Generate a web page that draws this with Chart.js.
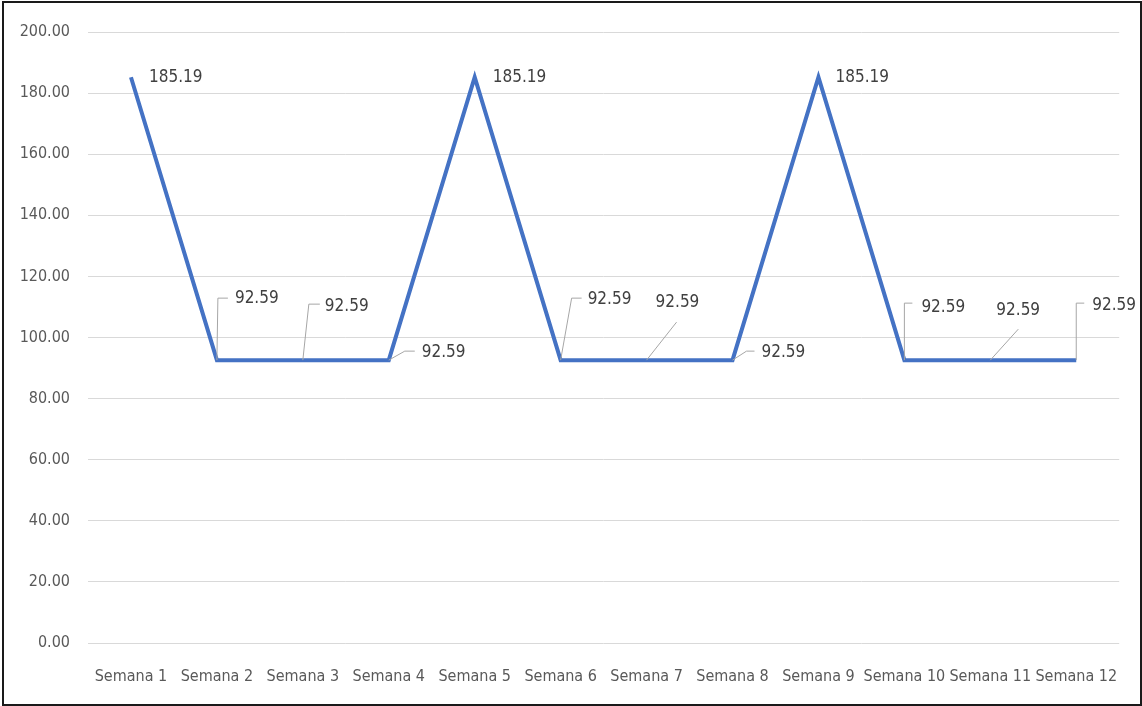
<!DOCTYPE html>
<html>
<head>
<meta charset="utf-8">
<script src="https://cdn.jsdelivr.net/npm/chart.js@4.4.1/dist/chart.umd.min.js"></script>
<style>
  html, body { margin: 0; padding: 0; background: #fff; }
  #wrap { position: relative; width: 1142px; height: 706px; }
  #frame { position: absolute; left: 2px; top: 1px; width: 1136px; height: 701px; border: 2px solid #1a1a1a; box-sizing: content-box; pointer-events: none; }
  canvas { position: absolute; left: 0; top: 0; }
</style>
</head>
<body>
<div id="wrap">
  <canvas id="c" width="1142" height="706"></canvas>
  <div id="frame"></div>
</div>
<script>
const categories = ["Semana 1","Semana 2","Semana 3","Semana 4","Semana 5","Semana 6","Semana 7","Semana 8","Semana 9","Semana 10","Semana 11","Semana 12"];
const values = [185.19, 92.59, 92.59, 92.59, 185.19, 92.59, 92.59, 92.59, 185.19, 92.59, 92.59, 92.59];
const yTicks = [0, 20, 40, 60, 80, 100, 120, 140, 160, 180, 200];

const FONT = '"Liberation Sans Narrow", "DejaVu Sans Condensed", "Arial Narrow", sans-serif';

// label placement (pixel offsets from each point), and leader lines
const labelLayout = [
  { dx: 18, dy: 0, leader: null },
  { dx: 18, dy: -62, leader: [[0,0],[1,-62],[11,-62]] },
  { dx: 22, dy: -54, leader: [[0,0],[6,-56],[17,-56]] },
  { dx: 33, dy: -8, leader: [[0,0],[16,-9],[26,-9]] },
  { dx: 18, dy: 0, leader: null },
  { dx: 27, dy: -61, leader: [[0,0],[11,-62],[21,-62]] },
  { dx: 9, dy: -58, leader: [[0,0],[30,-38]] },
  { dx: 29, dy: -8, leader: [[0,0],[14,-9],[22,-9]] },
  { dx: 17, dy: 0, leader: null },
  { dx: 17, dy: -53, leader: [[0,0],[0,-57],[8,-57]] },
  { dx: 6, dy: -50, leader: [[0,0],[28,-31]] },
  { dx: 16, dy: -55, leader: [[0,0],[0,-57],[8,-57]] }
];

const dataLabels = {
  id: 'dataLabels',
  afterDatasetsDraw(chart) {
    const ctx = chart.ctx;
    const meta = chart.getDatasetMeta(0);
    ctx.save();
    meta.data.forEach((pt, i) => {
      const L = labelLayout[i];
      if (L.leader) {
        ctx.beginPath();
        ctx.strokeStyle = '#a6a6a6';
        ctx.lineWidth = 1;
        L.leader.forEach((p, j) => {
          const x = pt.x + p[0], y = pt.y + p[1];
          if (j === 0) ctx.moveTo(x, y); else ctx.lineTo(x, y);
        });
        ctx.stroke();
      }
      ctx.fillStyle = '#404040';
      ctx.font = '17px ' + FONT;
      ctx.textAlign = 'left';
      ctx.textBaseline = 'middle';
      ctx.fillText(values[i].toFixed(2), pt.x + L.dx, pt.y + L.dy);
    });
    ctx.restore();
  }
};

new Chart(document.getElementById('c'), {
  type: 'line',
  data: {
    labels: categories,
    datasets: [{
      data: values,
      borderColor: '#4472C4',
      borderWidth: 4,
      borderJoinStyle: 'miter',
      borderCapStyle: 'butt',
      pointRadius: 0,
      tension: 0,
      fill: false
    }]
  },
  options: {
    responsive: false,
    animation: false,
    devicePixelRatio: 1,
    layout: { padding: { left: 0, right: 22, top: 32, bottom: 0 } },
    plugins: { legend: { display: false }, tooltip: { enabled: false } },
    scales: {
      x: {
        offset: true,
        grid: { display: false, drawTicks: false },
        border: { display: false },
        ticks: { color: '#595959', font: { family: FONT, size: 16 }, padding: 24, maxRotation: 0, autoSkip: false },
        afterFit(s) { s.height = 63; }
      },
      y: {
        min: 0, max: 200,
        afterBuildTicks(s) { s.ticks = yTicks.map(v => ({ value: v })); },
        grid: { color: '#d9d9d9', lineWidth: 1, drawTicks: false },
        border: { display: false },
        ticks: { color: '#595959', font: { family: FONT, size: 16 }, padding: 18, callback: v => Number(v).toFixed(2) },
        afterFit(s) { s.width = 88; }
      }
    }
  },
  plugins: [dataLabels]
});
</script>
</body>
</html>
